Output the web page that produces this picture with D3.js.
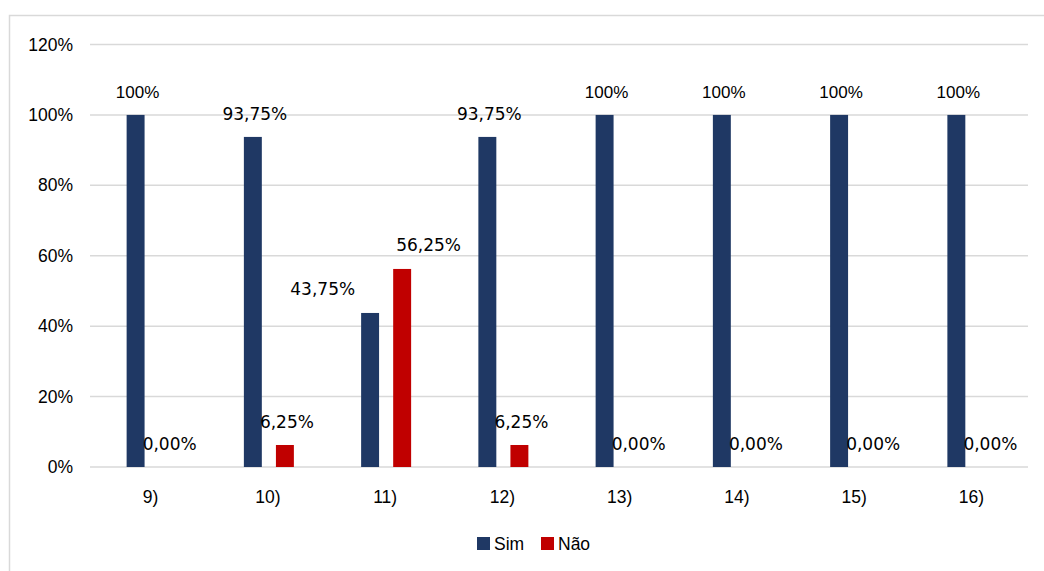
<!DOCTYPE html>
<html>
<head>
<meta charset="utf-8">
<script src="https://cdn.jsdelivr.net/npm/d3@7"></script>
<style>
  body { margin: 0; background: #fff; }
  text { font-family: "Liberation Sans", Arial, sans-serif; fill: #000; }
  .val { font-family: "DejaVu Sans", sans-serif; }
</style>
</head>
<body>
<svg id="chart" width="1044" height="571"></svg>
<script>
const categories = ["9)", "10)", "11)", "12)", "13)", "14)", "15)", "16)"];
const simValues = [100, 93.75, 43.75, 93.75, 100, 100, 100, 100];
const naoValues = [0, 6.25, 56.25, 6.25, 0, 0, 0, 0];
const simLabels = ["100%", "93,75%", "43,75%", "93,75%", "100%", "100%", "100%", "100%"];
const naoLabels = ["0,00%", "6,25%", "56,25%", "6,25%", "0,00%", "0,00%", "0,00%", "0,00%"];
const yTicks = [0, 20, 40, 60, 80, 100, 120];

const series = [
  { name: "Sim", color: "#1f3864", values: simValues, labels: simLabels },
  { name: "Não", color: "#c00000", values: naoValues, labels: naoLabels },
];

const svg = d3.select("#chart");

// outer chart border
svg.append("rect")
  .attr("x", 9.5).attr("y", 15.5)
  .attr("width", 1100).attr("height", 600)
  .attr("fill", "none").attr("stroke", "#d9d9d9").attr("stroke-width", 1.5);

const margin = { left: 90, right: 1028, top: 44.5, bottom: 467 };

const x = d3.scaleBand().domain(categories).range([margin.left, margin.right]);
const x1 = d3.scaleBand().domain(series.map((s) => s.name))
  .range([x.bandwidth() / 2 - 22, x.bandwidth() / 2 + 28]).paddingInner(0.44);
const y = d3.scaleLinear().domain([0, 120]).range([margin.bottom, margin.top]);

// gridlines
svg.append("g")
  .selectAll("line")
  .data(yTicks)
  .join("line")
  .attr("x1", margin.left).attr("x2", margin.right)
  .attr("y1", (d) => y(d)).attr("y2", (d) => y(d))
  .attr("stroke", "#d9d9d9").attr("stroke-width", 1.5);

// y axis labels
svg.append("g")
  .selectAll("text")
  .data(yTicks)
  .join("text")
  .attr("x", 73)
  .attr("y", (d) => y(d) + 6)
  .attr("text-anchor", "end")
  .attr("font-size", 17.5)
  .text((d) => d + "%");

// x axis labels
svg.append("g")
  .selectAll("text")
  .data(categories)
  .join("text")
  .attr("x", (d) => x(d) + x.bandwidth() / 2 + 2)
  .attr("y", 503)
  .attr("text-anchor", "middle")
  .attr("font-size", 17.5)
  .text((d) => d);

// when both bars in a group are tall, push labels apart so they don't collide
const crowded = (i) => simValues[i] > 10 && naoValues[i] > 10;

// bars
series.forEach((s, si) => {
  const g = svg.append("g");
  g.selectAll("rect")
    .data(categories)
    .join("rect")
    .attr("x", (d) => x(d) + x1(s.name))
    .attr("width", x1.bandwidth())
    .attr("y", (d, i) => y(s.values[i]))
    .attr("height", (d, i) => y(0) - y(s.values[i]))
    .attr("fill", s.color);

  g.selectAll("text")
    .data(categories)
    .join("text")
    .attr("class", (d, i) => (s.labels[i].includes(",") ? "val" : null))
    .attr("x", (d, i) => {
      const left = x(d) + x1(s.name);
      if (crowded(i)) return si === 0 ? left - 6 : left + 3;
      return left + x1.bandwidth() / 2 + 2;
    })
    .attr("y", (d, i) => y(s.values[i]) - (crowded(i) ? 18 : 17))
    .attr("text-anchor", (d, i) => (crowded(i) ? (si === 0 ? "end" : "start") : "middle"))
    .attr("font-size", 17)
    .text((d, i) => s.labels[i]);
});

// legend
const legend = svg.append("g").attr("transform", "translate(477, 537)");
const items = legend.selectAll("g")
  .data(series)
  .join("g")
  .attr("transform", (d, i) => `translate(${i * 64}, 0)`);
items.append("rect")
  .attr("width", 13).attr("height", 13)
  .attr("fill", (d) => d.color);
items.append("text")
  .attr("x", 17).attr("y", 13)
  .attr("font-size", 17.5)
  .text((d) => d.name);
</script>
</body>
</html>
